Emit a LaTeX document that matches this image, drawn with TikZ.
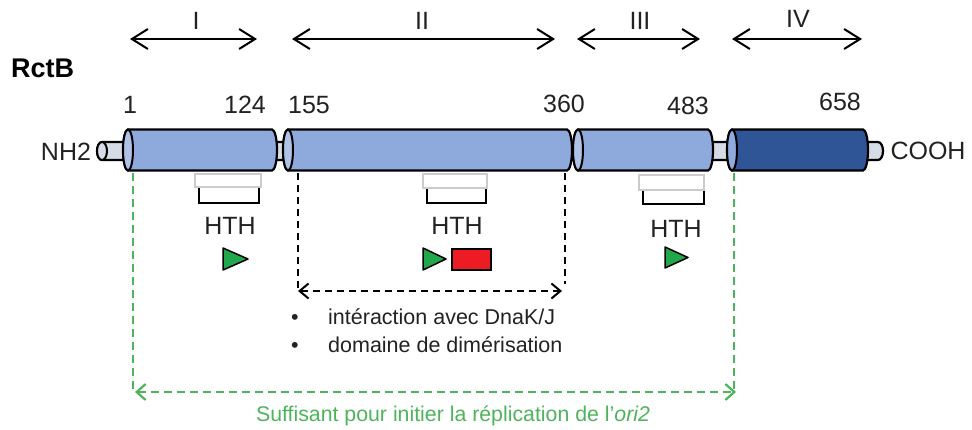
\documentclass[tikz,border=0pt]{standalone}
\usepackage{fontspec}
\setmainfont{Liberation Sans}
\usetikzlibrary{arrows.meta}
\definecolor{cylL}{HTML}{8EA9DB}
\definecolor{cylLface}{HTML}{AFC3E6}
\definecolor{cylD}{HTML}{2F5597}
\definecolor{cylDface}{HTML}{8FAADC}
\definecolor{rodc}{HTML}{D6DCE5}
\definecolor{grn}{HTML}{4DB45C}
\definecolor{tri}{HTML}{22A84C}
\definecolor{redbox}{HTML}{ED1C24}
\definecolor{txt}{HTML}{222222}
\newcommand\cylshape[6]{%
  \draw[line width=2.2pt,fill=#5] (#1,{#3-#4}) -- (#2,{#3-#4}) arc[start angle=90,end angle=-90,x radius=5pt,y radius=#4 pt] -- (#1,{#3+#4}) arc[start angle=270,end angle=90,x radius=5pt,y radius=#4 pt] -- cycle;
  \draw[line width=2pt,fill=#6] (#1,#3) ellipse[x radius=5pt,y radius=#4 pt];
}
\tikzset{
  big/.style={font=\fontsize{25}{30}\selectfont, text=txt, inner sep=0pt, anchor=base},
  mid/.style={font=\fontsize{21.5}{26}\selectfont, text=txt, inner sep=0pt, anchor=base west},
  dom/.style={line width=2pt, {Straight Barb[length=16pt,width=20pt]}-{Straight Barb[length=16pt,width=20pt]}},
  blkdash/.style={line width=2pt, dash pattern=on 7pt off 5pt},
  grndash/.style={line width=2.2pt, draw=grn, dash pattern=on 8pt off 5pt},
  hthbox/.style={draw=black!20, fill=white, line width=1.2pt},
  bracket/.style={line width=2.2pt},
  tristyle/.style={fill=tri, draw=black, line width=1.5pt, line join=round}
}
\begin{document}
\begin{tikzpicture}[x=1pt,y=-1pt]
\useasboundingbox (0,0) rectangle (972,429);
% domain arrows
\coordinate (d1a) at (130,39); \coordinate (d1b) at (257,39);
\coordinate (d2a) at (292,39); \coordinate (d2b) at (555,39);
\coordinate (d3a) at (577,39); \coordinate (d3b) at (700,39);
\coordinate (d4a) at (732,39); \coordinate (d4b) at (862,39);
\draw[dom] (d1a) -- (d1b);
\draw[dom] (d2a) -- (d2b);
\draw[dom] (d3a) -- (d3b);
\draw[dom] (d4a) -- (d4b);
\node[big] (rI) at (196,29) {I};
\node[big] (rII) at (422,29) {II};
\node[big] (rIII) at (640,29) {III};
\node[big] (rIV) at (798,27) {IV};
\node[big, font=\fontsize{27}{30}\selectfont\bfseries, anchor=base west, text=black] (rctb) at (11,77) {RctB};
% numbers
\node[big] (n1) at (130,113) {1};
\node[big] (n124) at (245,113) {124};
\node[big] (n155) at (309,113) {155};
\node[big] (n360) at (564,112) {360};
\node[big] (n483) at (688,114) {483};
\node[big] (n658) at (840,110) {658};
\node[big] (nh2) at (66,160) {NH2};
\node[big] (cooh) at (928,159) {COOH};
% rods
\cylshape{102}{878}{151}{9}{rodc}{rodc}
% cylinders
\cylshape{128}{272}{150}{20.5}{cylL}{cylLface}
\cylshape{288}{567}{150}{20.5}{cylL}{cylLface}
\cylshape{578}{708}{150}{20.5}{cylL}{cylLface}
\cylshape{732}{863}{150}{20.5}{cylD}{cylDface}
% HTH motifs
\draw[bracket] (199,186) -- (199,203) -- (259,203) -- (259,186);
\draw[hthbox] (195,174) rectangle (261,187);
\node[big] (h1) at (230,234) {HTH};
\draw[bracket] (427,187) -- (427,203) -- (486,203) -- (486,187);
\draw[hthbox] (423,174) rectangle (487,188);
\node[big] (h2) at (457,234) {HTH};
\draw[bracket] (643,189) -- (643,204) -- (704,204) -- (704,189);
\draw[hthbox] (639,175) rectangle (704,190);
\node[big] (h3) at (676,237) {HTH};
% triangles and red box
\draw[tristyle] (223,248) -- (248,259) -- (223,270) -- cycle;
\draw[tristyle] (423,248) -- (446,259) -- (423,270) -- cycle;
\draw[fill=redbox, draw=black, line width=1.8pt] (452,249) rectangle (491,270);
\draw[tristyle] (665,247) -- (688,257.5) -- (665,268) -- cycle;
% black dashed
\coordinate (bl1) at (298,173); \coordinate (bl2) at (298,290);
\coordinate (br1) at (565,173); \coordinate (br2) at (565,284);
\draw[blkdash] (bl1) -- (bl2);
\draw[blkdash] (br1) -- (br2);
\coordinate (ba) at (298,291); \coordinate (bb) at (562,291);
\draw[blkdash, {Straight Barb[length=9pt,width=15pt]}-{Straight Barb[length=9pt,width=15pt]}] (ba) -- (bb);
\node[mid] (b1) at (291,324) {•};
\node[mid] (t1) at (328,324) {intéraction avec DnaK/J};
\node[mid] (b2) at (291,352) {•};
\node[mid] (t2) at (328,352) {domaine de dimérisation};
% green dashed
\coordinate (gl1) at (133,173); \coordinate (gl2) at (133,390);
\coordinate (gr1) at (734,173); \coordinate (gr2) at (734,390);
\draw[grndash] (gl1) -- (gl2);
\draw[grndash] (gr1) -- (gr2);
\coordinate (ga) at (135,392); \coordinate (gb) at (736,392);
\draw[grndash, {Straight Barb[length=9pt,width=16pt]}-{Straight Barb[length=9pt,width=16pt]}] (ga) -- (gb);
\node[font=\fontsize{21.3}{25}\selectfont, text=grn, inner sep=0pt, anchor=base] (gtxt) at (453,421) {Suffisant pour initier la réplication de l’\textit{ori2}};
\end{tikzpicture}
\end{document}
